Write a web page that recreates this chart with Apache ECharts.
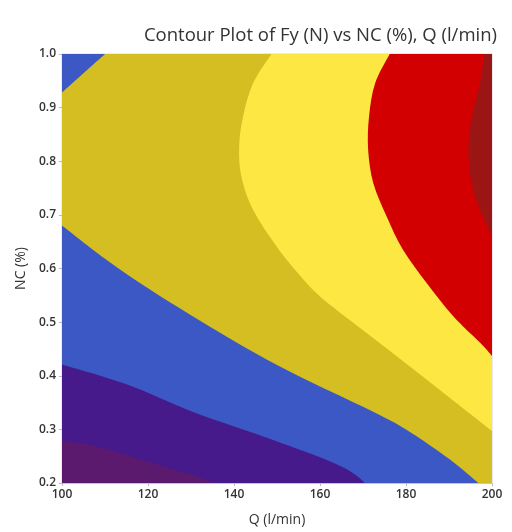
<!DOCTYPE html>
<html>
<head>
<meta charset="utf-8">
<script src="https://cdn.jsdelivr.net/npm/echarts@6/dist/echarts.min.js"></script>
<style>
  html, body { margin: 0; padding: 0; background: #fff; }
  #chart { width: 512px; height: 532px; }
</style>
</head>
<body>
<div id="chart"></div>
<script>
// Axis ticks
const qTicks = [100, 120, 140, 160, 180, 200];
const ncTicks = [0.2, 0.3, 0.4, 0.5, 0.6, 0.7, 0.8, 0.9, 1.0];

// Contour boundaries as [Q, NC] points
const topLeftBlueEdge = [[100, 0.928], [110, 1.0]];
const blueGoldEdge = [[100, 0.68], [110, 0.618], [120, 0.563], [130, 0.513], [140, 0.465],
  [150, 0.42], [160, 0.38], [170, 0.342], [180, 0.3], [190, 0.245], [196.8, 0.2]];
const bluePurpleEdge = [[100, 0.421], [115, 0.384], [130, 0.334], [145, 0.292], [160, 0.248],
  [167, 0.222], [170.5, 0.2]];
const plumEdge = [[100, 0.279], [107, 0.27], [115, 0.252], [123, 0.232], [130.5, 0.214], [135.5, 0.2]];
const goldYellowEdge = [[148.7, 1.0], [144.4, 0.945], [142.1, 0.883], [141.2, 0.828], [141.7, 0.772],
  [144.4, 0.71], [150, 0.64], [155, 0.59], [160, 0.548], [170, 0.485], [180, 0.423],
  [190, 0.36], [200, 0.297]];
const redEdge = [[176.2, 1.0], [172.8, 0.945], [171.4, 0.883], [171.2, 0.821], [172.4, 0.759],
  [175.5, 0.697], [179.3, 0.635], [184.8, 0.573], [191, 0.511], [197.2, 0.462], [200, 0.437]];
const darkRedEdge = [[198.2, 1.0], [197.2, 0.945], [195.3, 0.883], [194.5, 0.821], [195.3, 0.759],
  [197.2, 0.71], [200, 0.66]];

// Band colours, low to high
const bandColors = {
  plum: '#5c1a6f',
  purple: '#461a8a',
  blue: '#3b58c5',
  gold: '#d5be21',
  yellow: '#fde742',
  red: '#d20000',
  darkRed: '#9b1515'
};

const qMin = qTicks[0], qMax = qTicks[qTicks.length - 1];
const ncMin = ncTicks[0], ncMax = ncTicks[ncTicks.length - 1];

// Each filled band: a smooth boundary curve closed through plot corners; painted in order
const regions = [
  { edge: [], corners: [[qMin, ncMin], [qMax, ncMin], [qMax, ncMax], [qMin, ncMax]], color: bandColors.gold },
  { edge: blueGoldEdge, corners: [[qMin, ncMin]], color: bandColors.blue },
  { edge: topLeftBlueEdge, corners: [[qMin, ncMax]], color: bandColors.blue },
  { edge: bluePurpleEdge, corners: [[qMin, ncMin]], color: bandColors.purple },
  { edge: plumEdge, corners: [[qMin, ncMin]], color: bandColors.plum },
  { edge: goldYellowEdge, corners: [[qMax, ncMax]], color: bandColors.yellow },
  { edge: redEdge, corners: [[qMax, ncMax]], color: bandColors.red },
  { edge: darkRedEdge, corners: [[qMax, ncMax]], color: bandColors.darkRed }
];

function smoothSegment(pts) {
  // Catmull-Rom through pixel points, written as cubic Bezier commands
  let d = '';
  for (let i = 0; i < pts.length - 1; i++) {
    const p0 = pts[i - 1] || pts[i];
    const p1 = pts[i];
    const p2 = pts[i + 1];
    const p3 = pts[i + 2] || p2;
    const c1 = [p1[0] + (p2[0] - p0[0]) / 6, p1[1] + (p2[1] - p0[1]) / 6];
    const c2 = [p2[0] - (p3[0] - p1[0]) / 6, p2[1] - (p3[1] - p1[1]) / 6];
    d += ' C' + c1[0] + ',' + c1[1] + ' ' + c2[0] + ',' + c2[1] + ' ' + p2[0] + ',' + p2[1];
  }
  return d;
}

function renderItem(params, api) {
  const r = regions[api.value(0)];
  const edgePx = r.edge.map(p => api.coord(p));
  const cornerPx = r.corners.map(p => api.coord(p));
  let d;
  if (edgePx.length) {
    d = 'M' + edgePx[0][0] + ',' + edgePx[0][1] + smoothSegment(edgePx);
    cornerPx.forEach(c => { d += ' L' + c[0] + ',' + c[1]; });
  } else {
    d = 'M' + cornerPx[0][0] + ',' + cornerPx[0][1];
    cornerPx.slice(1).forEach(c => { d += ' L' + c[0] + ',' + c[1]; });
  }
  d += ' Z';
  return {
    type: 'path',
    shape: { pathData: d },
    style: { fill: r.color, stroke: null }
  };
}

const chart = echarts.init(document.getElementById('chart'), null, { renderer: 'canvas' });
const fontFamily = '"Open Sans", "Noto Sans", sans-serif';

chart.setOption({
  animation: false,
  backgroundColor: '#ffffff',
  title: {
    text: 'Contour Plot of Fy (N) vs NC (%), Q (l/min)',
    right: 10,
    top: 21,
    textStyle: { fontFamily, fontSize: 18.5, fontWeight: 'normal', color: '#333' }
  },
  grid: { left: 62, right: 20, top: 54, bottom: 48, show: true, borderColor: '#d8d2e6', borderWidth: 1 },
  xAxis: {
    type: 'value',
    min: qMin, max: qMax, interval: qTicks[1] - qTicks[0],
    name: 'Q (l/min)', nameLocation: 'middle', nameGap: 30,
    nameTextStyle: { fontFamily, fontSize: 14, color: '#333' },
    axisLine: { show: true, lineStyle: { color: '#c9c1dd' } },
    axisTick: { show: true, length: 3, lineStyle: { color: '#bbb' } },
    axisLabel: { fontFamily, fontSize: 12, fontWeight: 600, color: '#333', margin: 6 },
    splitLine: { show: false }
  },
  yAxis: {
    type: 'value',
    min: ncMin, max: ncMax, interval: 0.1,
    name: 'NC (%)', nameLocation: 'middle', nameGap: 33,
    nameTextStyle: { fontFamily, fontSize: 14, color: '#333' },
    axisLine: { show: true, lineStyle: { color: '#c9c1dd' } },
    axisTick: { show: true, length: 3, lineStyle: { color: '#bbb' } },
    axisLabel: { fontFamily, fontSize: 12, fontWeight: 600, color: '#333', margin: 6, formatter: v => v.toFixed(1) },
    splitLine: { show: false }
  },
  series: [{
    type: 'custom',
    coordinateSystem: 'cartesian2d',
    renderItem,
    data: regions.map((r, i) => [i]),
    encode: { x: -1, y: -1 },
    silent: true
  }]
});
</script>
</body>
</html>
